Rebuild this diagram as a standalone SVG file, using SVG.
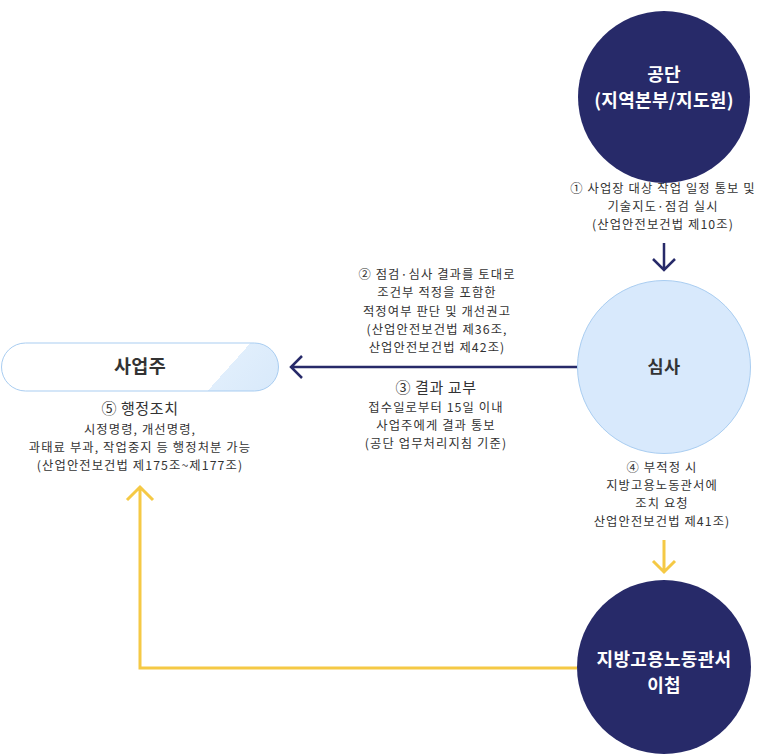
<svg xmlns="http://www.w3.org/2000/svg" width="759" height="754" viewBox="0 0 759 754">
<style>
text{font-family:"Noto Sans CJK KR","Noto Sans",sans-serif;text-anchor:middle}
.lbl{font-size:12.3px;fill:#333;letter-spacing:1.1px}
.lblb{font-size:15px;fill:#333;letter-spacing:0.6px}
.wt{font-size:18px;font-weight:bold;fill:#fff;letter-spacing:0.3px}
.dk{font-size:17.5px;font-weight:bold;fill:#333;letter-spacing:0.3px}
.navy{fill:#272a69}
.nl{stroke:#272a69;stroke-width:2.5;fill:none}
.yl{stroke:#f5c945;stroke-width:3;fill:none}
</style>
<defs>
<linearGradient id="pg" gradientUnits="userSpaceOnUse" x1="229" y1="367" x2="277" y2="410">
<stop offset="0" stop-color="#ffffff"/>
<stop offset="0" stop-color="#e0eefc"/>
<stop offset="1" stop-color="#d6e8fa"/>
</linearGradient>
</defs>
<g id="connectors">
<path class="nl" d="M664 243V270M653 259L664 270L675 259"/>
<path class="nl" d="M577 367H291M302 356L291 367L302 378"/>
<path class="yl" d="M664 540V572M653 561L664 572L675 561"/>
<path class="yl" d="M577 668H140V487M127 500L140 487L153 500"/>
</g>
<g id="node-gongdan">
<circle class="navy" cx="664" cy="97" r="86"/>
<text class="wt" x="664" y="81">공단</text>
<text class="wt" x="664" y="107">(지역본부/지도원)</text>
</g>
<g id="label-1">
<text class="lbl" x="663" y="193">① 사업장 대상 작업 일정 통보 및</text>
<text class="lbl" x="663" y="211">기술지도·점검 실시</text>
<text class="lbl" x="663" y="229">(산업안전보건법 제10조)</text>
</g>
<g id="node-simsa">
<circle cx="664" cy="367" r="86.5" fill="#d8e9fc" stroke="#a9cdf1" stroke-width="1"/>
<text class="dk" x="664" y="373">심사</text>
</g>
<g id="label-2">
<text class="lbl" x="437" y="279">② 점검·심사 결과를 토대로</text>
<text class="lbl" x="437" y="297">조건부 적정을 포함한</text>
<text class="lbl" x="437" y="316">적정여부 판단 및 개선권고</text>
<text class="lbl" x="437" y="334">(산업안전보건법 제36조,</text>
<text class="lbl" x="437" y="352">산업안전보건법 제42조)</text>
</g>
<g id="label-3">
<text class="lblb" x="436" y="393">③ 결과 교부</text>
<text class="lbl" x="436" y="412">접수일로부터 15일 이내</text>
<text class="lbl" x="436" y="430">사업주에게 결과 통보</text>
<text class="lbl" x="436" y="448">(공단 업무처리지침 기준)</text>
</g>
<g id="node-saeopju">
<rect x="1.5" y="343" width="277" height="48" rx="24" fill="url(#pg)" stroke="#a9cdf1" stroke-width="1"/>
<text class="dk" x="140" y="373" style="font-size:18.5px">사업주</text>
</g>
<g id="label-5">
<text class="lblb" x="140" y="414">⑤ 행정조치</text>
<text class="lbl" x="140" y="434">시정명령, 개선명령,</text>
<text class="lbl" x="140" y="452">과태료 부과, 작업중지 등 행정처분 가능</text>
<text class="lbl" x="140" y="470">(산업안전보건법 제175조~제177조)</text>
</g>
<g id="label-4">
<text class="lbl" x="662" y="472">④ 부적정 시</text>
<text class="lbl" x="662" y="490">지방고용노동관서에</text>
<text class="lbl" x="662" y="508">조치 요청</text>
<text class="lbl" x="662" y="526">산업안전보건법 제41조)</text>
</g>
<g id="node-labor">
<circle class="navy" cx="664" cy="667" r="87"/>
<text class="wt" x="664" y="666">지방고용노동관서</text>
<text class="wt" x="664" y="692">이첩</text>
</g>
</svg>
